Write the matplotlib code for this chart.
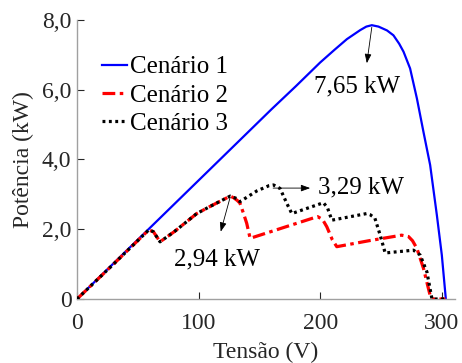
import matplotlib.pyplot as plt

# Cenário 1 - sem sombreamento
v1 = [0, 20, 40, 60, 80, 100, 120, 140, 160, 180, 200, 212, 222, 233, 238, 242.5,
      248, 255, 260.3, 265, 268.6, 274, 279.6, 285, 290.5, 296, 300.1, 303.4]
p1 = [0, 0.68, 1.36, 2.04, 2.72, 3.40, 4.08, 4.76, 5.44, 6.10, 6.78, 7.15, 7.45,
      7.71, 7.81, 7.85, 7.81, 7.70, 7.56, 7.32, 7.09, 6.61, 5.75, 4.79, 3.84,
      2.41, 1.26, 0]

# Cenário 2
v2 = [0, 30, 59, 62.8, 68.3, 80, 98.5, 112, 121, 126, 129, 132, 134, 137, 139.6,
      142.4, 170, 195, 198, 202, 205.5, 210, 213.7, 240, 262, 267, 272.7, 276,
      279.6, 285, 290.5, 292, 303]
p2 = [0, 1.0, 1.98, 1.93, 1.64, 1.93, 2.45, 2.70, 2.86, 2.95, 2.90, 2.82, 2.75,
      2.45, 2.17, 1.74, 2.05, 2.33, 2.36, 2.28, 2.07, 1.70, 1.50, 1.67, 1.80,
      1.83, 1.79, 1.67, 1.45, 0.88, 0.10, 0.0, 0.0]

# Cenário 3
v3 = [0, 30, 59, 62.8, 68.3, 80, 98.5, 112, 121, 126, 131.4, 134, 148, 158,
      161.6, 167, 172.6, 176.7, 202.7, 206, 209.6, 238.4, 241, 245, 249.4, 253.5,
      276.8, 282.3, 287.8, 292, 303]
p3 = [0, 1.0, 1.98, 1.93, 1.64, 1.93, 2.45, 2.70, 2.86, 2.95, 2.88, 2.79, 3.10,
      3.25, 3.27, 3.17, 2.74, 2.45, 2.76, 2.62, 2.26, 2.45, 2.42, 2.32, 1.83,
      1.32, 1.40, 1.26, 0.78, 0.0, 0.0]

plt.rcParams['font.family'] = 'serif'
plt.rcParams['font.serif'] = ['Liberation Serif', 'DejaVu Serif']

fig = plt.figure(figsize=(4.62, 3.63), dpi=100)
ax = fig.add_axes([0.1667, 0.1763, 0.8183, 0.7687])

ax.plot(v1, p1, color='#0000ff', lw=1.6, label='Cenário 1', zorder=2)
ax.plot(v2, p2, color='#ff0000', lw=2.3, dashes=(4, 1.4, 1.1, 1.4),
        label='Cenário 2', zorder=3)
ax.plot(v3, p3, color='black', lw=2.3, linestyle=(0, (0.9, 1.1)),
        label='Cenário 3', zorder=4)

ax.set_xlim(0, 311)
ax.set_ylim(0, 8)
ax.set_xticks([0, 100, 200, 300])
ax.set_yticks([0, 2, 4, 6, 8])
ax.set_yticklabels(['0', '2,0', '4,0', '6,0', '8,0'])

for s in ['top', 'right']:
    ax.spines[s].set_visible(False)
for s in ['left', 'bottom']:
    ax.spines[s].set_color('#a0a0a0')
    ax.spines[s].set_linewidth(1.0)
ax.tick_params(direction='in', length=5, width=0.8, color='#262626',
               labelsize=17, labelcolor='#262626', pad=4)
ax.tick_params(axis='x', pad=10)

ax.set_xlabel('Tensão (V)', fontsize=17, color='#262626', labelpad=6)
ax.set_ylabel('Potência (kW)', fontsize=17, color='#262626', labelpad=5.5)

arrow = dict(arrowstyle='-|>,head_length=0.55,head_width=0.2', color='black',
             lw=0.6, shrinkA=0, shrinkB=0)
ax.annotate('', xy=(238.4, 6.76), xytext=(242.5, 7.79), arrowprops=arrow)
ax.annotate('', xy=(118.2, 1.93), xytext=(126, 2.92), arrowprops=arrow)
ax.annotate('', xy=(191.8, 3.18), xytext=(161.3, 3.18), arrowprops=arrow)

ax.text(230.2, 6.1, '7,65 kW', fontsize=18, ha='center', va='center')
ax.text(115, 1.12, '2,94 kW', fontsize=18, ha='center', va='center')
ax.text(198.4, 3.19, '3,29 kW', fontsize=18, ha='left', va='center')

ax.legend(loc='upper left', bbox_to_anchor=(0.065, 0.871), frameon=False,
          fontsize=18, handlelength=1.0, handletextpad=0.15, labelspacing=0.23,
          borderaxespad=0, borderpad=0)

fig.savefig('out.png', dpi=100)
